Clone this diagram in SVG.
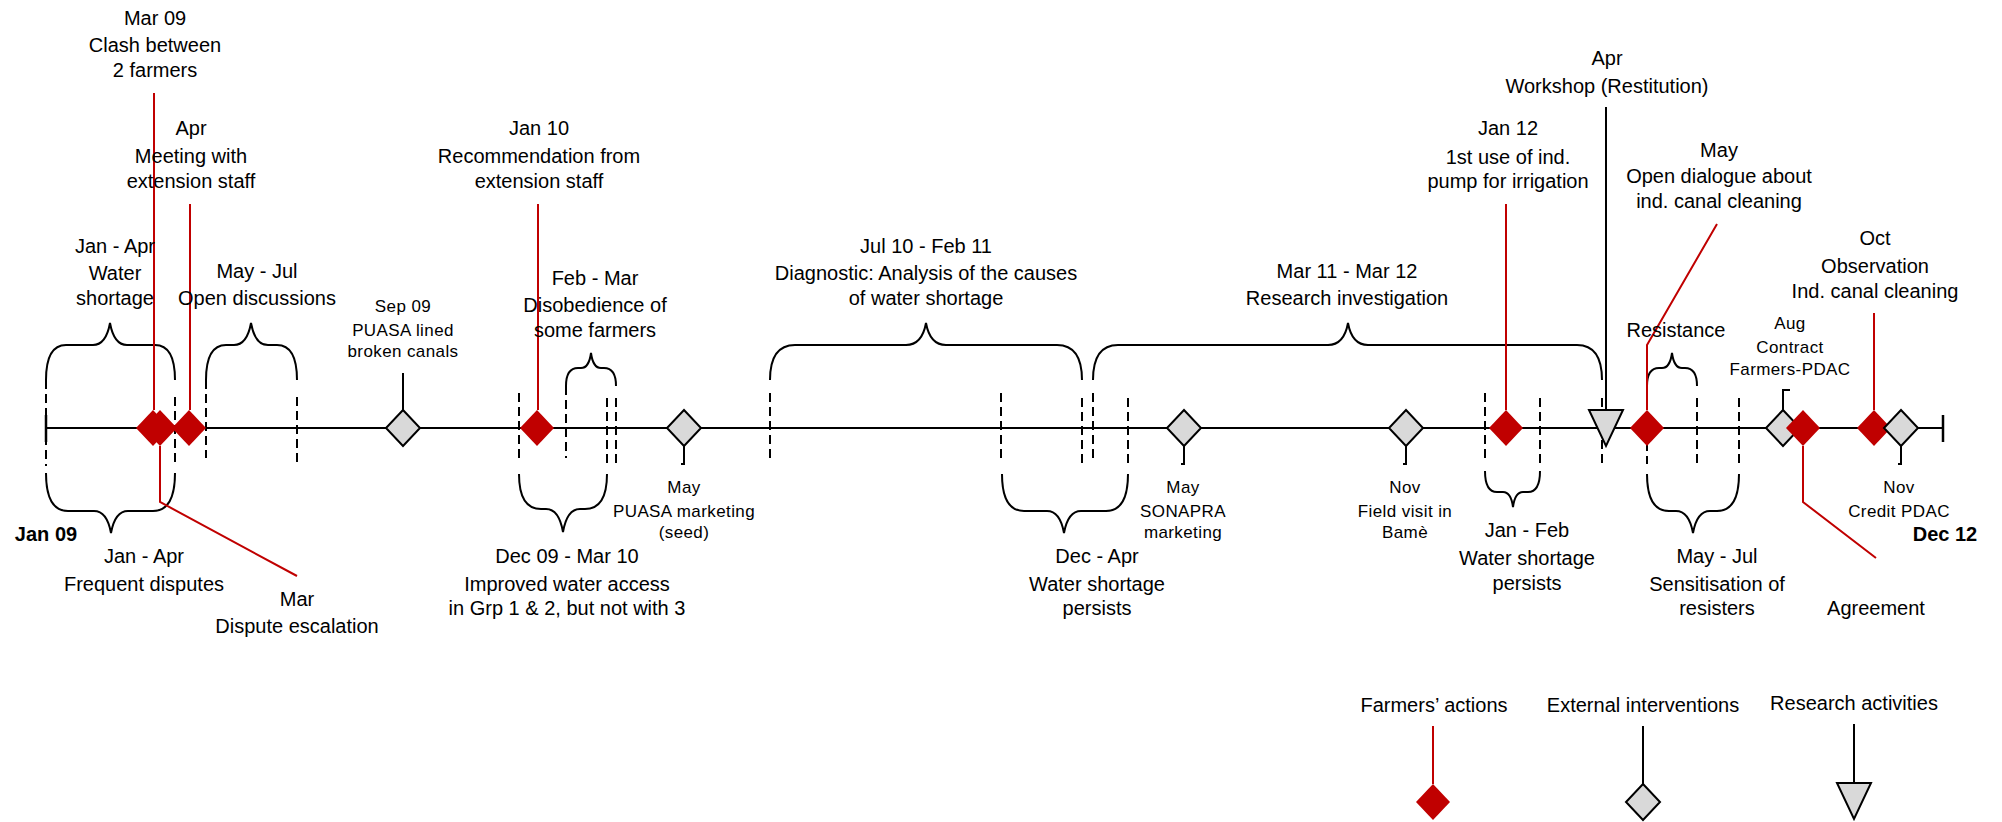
<svg xmlns="http://www.w3.org/2000/svg" xmlns:xlink="http://www.w3.org/1999/xlink" width="2002" height="822" viewBox="0 0 2002 822">
<style>
text{font-family:"Liberation Sans",Arial,sans-serif;fill:#000;text-anchor:middle}
.big{font-size:20px}
.sm{font-size:17px;letter-spacing:0.4px}
.bold{font-size:20px;font-weight:bold}
.axis{stroke:#000;stroke-width:2;fill:none}
.dash{stroke:#000;stroke-width:2;stroke-dasharray:9,5;fill:none}
.brace{stroke:#000;stroke-width:2;fill:none}
.rl{stroke:#C00000;stroke-width:2;fill:none}
.bl{stroke:#000;stroke-width:2;fill:none}
.red{fill:#C00000;stroke:none}
.gray{fill:#D9D9D9;stroke:#000;stroke-width:2}
</style>
<defs>
<path id="dia" d="M0,-18 L17,0 L0,18 L-17,0 Z"/>
<path id="tri" d="M-17,-18 L17,-18 L0,18 Z"/>
</defs>
<rect width="2002" height="822" fill="#fff"/>

<g id="axis">
<line class="axis" x1="46" y1="428" x2="1943" y2="428"/>
<line x1="46" y1="415" x2="46" y2="442" stroke="#000" stroke-width="2.5"/>
<line x1="1943" y1="415" x2="1943" y2="442" stroke="#000" stroke-width="2.5"/>
</g>

<g id="dashes">
<line class="dash" x1="46" y1="380" x2="46" y2="466"/>
<line class="dash" x1="175" y1="397" x2="175" y2="465"/>
<line class="dash" x1="206" y1="380" x2="206" y2="458"/>
<line class="dash" x1="297" y1="397" x2="297" y2="465"/>
<line class="dash" x1="519" y1="393" x2="519" y2="458"/>
<line class="dash" x1="566" y1="386" x2="566" y2="458"/>
<line class="dash" x1="607" y1="398" x2="607" y2="464"/>
<line class="dash" x1="616" y1="398" x2="616" y2="464"/>
<line class="dash" x1="770" y1="393" x2="770" y2="458"/>
<line class="dash" x1="1001" y1="393" x2="1001" y2="458"/>
<line class="dash" x1="1082" y1="398" x2="1082" y2="464"/>
<line class="dash" x1="1093" y1="393" x2="1093" y2="458"/>
<line class="dash" x1="1128" y1="398" x2="1128" y2="464"/>
<line class="dash" x1="1485" y1="393" x2="1485" y2="458"/>
<line class="dash" x1="1540" y1="398" x2="1540" y2="464"/>
<line class="dash" x1="1602" y1="398" x2="1602" y2="464"/>
<line class="dash" x1="1647" y1="386" x2="1647" y2="464"/>
<line class="dash" x1="1697" y1="398" x2="1697" y2="464"/>
<line class="dash" x1="1739" y1="398" x2="1739" y2="464"/>
</g>

<g id="braces">
<path class="brace" d="M46,380 Q46,345 66,345 H93 Q106,345 110,323 Q114,345 127,345 H155 Q175,345 175,380"/>
<path class="brace" d="M206,380 Q206,345 226,345 H234 Q247,345 251,323 Q255,345 268,345 H277 Q297,345 297,380"/>
<path class="brace" d="M566,386 Q566,368 578,368 H581 Q589,368 591,353 Q593,368 601,368 H604 Q616,368 616,386"/>
<path class="brace" d="M770,380 Q770,345 795,345 H906 Q922,345 926,323 Q930,345 946,345 H1057 Q1082,345 1082,380"/>
<path class="brace" d="M1093,380 Q1093,345 1118,345 H1328 Q1344,345 1348,323 Q1352,345 1368,345 H1577 Q1602,345 1602,380"/>
<path class="brace" d="M1647,386 Q1647,368 1659,368 H1662 Q1670,368 1672,353 Q1674,368 1682,368 H1685 Q1697,368 1697,386"/>
<path class="brace" d="M46,473 Q46,511 68,511 H94 Q107,511 111,533 Q115,511 128,511 H153 Q175,511 175,473"/>
<path class="brace" d="M519,474 Q519,509 541,509 H546 Q559,509 563,532 Q567,509 580,509 H585 Q607,509 607,474"/>
<path class="brace" d="M1002,474 Q1002,511 1024,511 H1047 Q1060,511 1064,533 Q1068,511 1081,511 H1106 Q1128,511 1128,474"/>
<path class="brace" d="M1485,471 Q1485,492 1497,492 H1503 Q1511,492 1513,507 Q1515,492 1523,492 H1528 Q1540,492 1540,471"/>
<path class="brace" d="M1647,474 Q1647,511 1669,511 H1676 Q1689,511 1693,533 Q1697,511 1710,511 H1717 Q1739,511 1739,474"/>
</g>

<g id="connectors">
<path class="rl" d="M154,93 V410"/>
<path class="rl" d="M190,204 V410"/>
<path class="rl" d="M160,446 V502 L297,576"/>
<path class="rl" d="M538,204 V410"/>
<path class="rl" d="M1506,204 V410"/>
<path class="rl" d="M1717,224 L1647,345 V410"/>
<path class="rl" d="M1803,446 V502 L1876,558"/>
<path class="rl" d="M1874,313 V410"/>
<path class="bl" d="M403,373 V410"/>
<path class="bl" d="M684,446 V464 H681"/>
<path class="bl" d="M1184,446 V464 H1181"/>
<path class="bl" d="M1406,446 V464 H1403"/>
<path class="bl" d="M1783,410 V390 H1790"/>
<path class="bl" d="M1901,446 V464 H1898"/>
<path class="bl" d="M1606,107 V410"/>
</g>

<g id="n-clash"><use href="#dia" class="red" transform="translate(153,428)"/>
<text class="big" x="155" y="25">Mar 09</text><text class="big" x="155" y="52">Clash between</text><text class="big" x="155" y="77">2 farmers</text></g>
<g id="n-escalation"><use href="#dia" class="red" transform="translate(160,428)"/>
<text class="big" x="297" y="606">Mar</text><text class="big" x="297" y="633">Dispute escalation</text></g>
<g id="n-meeting"><use href="#dia" class="red" transform="translate(189,428)"/>
<text class="big" x="191" y="135">Apr</text><text class="big" x="191" y="163">Meeting with</text><text class="big" x="191" y="188">extension staff</text></g>
<g id="n-puasa-lined"><use href="#dia" class="gray" transform="translate(403,428)"/>
<text class="sm" x="403" y="312">Sep 09</text><text class="sm" x="403" y="336">PUASA lined</text><text class="sm" x="403" y="357">broken canals</text></g>
<g id="n-recommendation"><use href="#dia" class="red" transform="translate(537,428)"/>
<text class="big" x="539" y="135">Jan 10</text><text class="big" x="539" y="163">Recommendation from</text><text class="big" x="539" y="188">extension staff</text></g>
<g id="n-puasa-marketing"><use href="#dia" class="gray" transform="translate(684,428)"/>
<text class="sm" x="684" y="493">May</text><text class="sm" x="684" y="517">PUASA marketing</text><text class="sm" x="684" y="538">(seed)</text></g>
<g id="n-sonapra"><use href="#dia" class="gray" transform="translate(1184,428)"/>
<text class="sm" x="1183" y="493">May</text><text class="sm" x="1183" y="517">SONAPRA</text><text class="sm" x="1183" y="538">marketing</text></g>
<g id="n-fieldvisit"><use href="#dia" class="gray" transform="translate(1406,428)"/>
<text class="sm" x="1405" y="493">Nov</text><text class="sm" x="1405" y="517">Field visit in</text><text class="sm" x="1405" y="538">Bamè</text></g>
<g id="n-pump"><use href="#dia" class="red" transform="translate(1506,428)"/>
<text class="big" x="1508" y="135">Jan 12</text><text class="big" x="1508" y="164">1st use of ind.</text><text class="big" x="1508" y="188">pump for irrigation</text></g>
<g id="n-workshop"><use href="#tri" class="gray" transform="translate(1606,428)"/>
<text class="big" x="1607" y="65">Apr</text><text class="big" x="1607" y="93">Workshop (Restitution)</text></g>
<g id="n-dialogue"><use href="#dia" class="red" transform="translate(1647,428)"/>
<text class="big" x="1719" y="157">May</text><text class="big" x="1719" y="183">Open dialogue about</text><text class="big" x="1719" y="208">ind. canal cleaning</text></g>
<g id="n-contract"><use href="#dia" class="gray" transform="translate(1783,428)"/>
<text class="sm" x="1790" y="329">Aug</text><text class="sm" x="1790" y="353">Contract</text><text class="sm" x="1790" y="375">Farmers-PDAC</text></g>
<g id="n-agreement"><use href="#dia" class="red" transform="translate(1803,428)"/>
<text class="big" x="1876" y="615">Agreement</text></g>
<g id="n-observation"><use href="#dia" class="red" transform="translate(1874,428)"/>
<text class="big" x="1875" y="245">Oct</text><text class="big" x="1875" y="273">Observation</text><text class="big" x="1875" y="298">Ind. canal cleaning</text></g>
<g id="n-credit"><use href="#dia" class="gray" transform="translate(1901,428)"/>
<text class="sm" x="1899" y="493">Nov</text><text class="sm" x="1899" y="517">Credit PDAC</text></g>

<g id="periods">
<text class="big" x="115" y="253">Jan - Apr</text><text class="big" x="115" y="280">Water</text><text class="big" x="115" y="305">shortage</text>
<text class="big" x="257" y="278">May - Jul</text><text class="big" x="257" y="305">Open discussions</text>
<text class="big" x="595" y="285">Feb - Mar</text><text class="big" x="595" y="312">Disobedience of</text><text class="big" x="595" y="337">some farmers</text>
<text class="big" x="926" y="253">Jul 10 - Feb 11</text><text class="big" x="926" y="280">Diagnostic: Analysis of the causes</text><text class="big" x="926" y="305">of water shortage</text>
<text class="big" x="1347" y="278">Mar 11 - Mar 12</text><text class="big" x="1347" y="305">Research investigation</text>
<text class="big" x="1676" y="337">Resistance</text>
<text class="big" x="144" y="563">Jan - Apr</text><text class="big" x="144" y="591">Frequent disputes</text>
<text class="big" x="567" y="563">Dec 09 - Mar 10</text><text class="big" x="567" y="591">Improved water access</text><text class="big" x="567" y="615">in Grp 1 &amp; 2, but not with 3</text>
<text class="big" x="1097" y="563">Dec - Apr</text><text class="big" x="1097" y="591">Water shortage</text><text class="big" x="1097" y="615">persists</text>
<text class="big" x="1527" y="537">Jan - Feb</text><text class="big" x="1527" y="565">Water shortage</text><text class="big" x="1527" y="590">persists</text>
<text class="big" x="1717" y="563">May - Jul</text><text class="big" x="1717" y="591">Sensitisation of</text><text class="big" x="1717" y="615">resisters</text>
<text class="bold" x="46" y="541">Jan 09</text>
<text class="bold" x="1945" y="541">Dec 12</text>
</g>

<g id="legend">
<text class="big" x="1434" y="712">Farmers’ actions</text>
<line class="rl" x1="1433" y1="726" x2="1433" y2="784"/>
<use href="#dia" class="red" transform="translate(1433,802)"/>
<text class="big" x="1643" y="712">External interventions</text>
<line class="bl" x1="1643" y1="726" x2="1643" y2="784"/>
<use href="#dia" class="gray" transform="translate(1643,802)"/>
<text class="big" x="1854" y="710">Research activities</text>
<line class="bl" x1="1854" y1="724" x2="1854" y2="783"/>
<use href="#tri" class="gray" transform="translate(1854,801)"/>
</g>
</svg>
